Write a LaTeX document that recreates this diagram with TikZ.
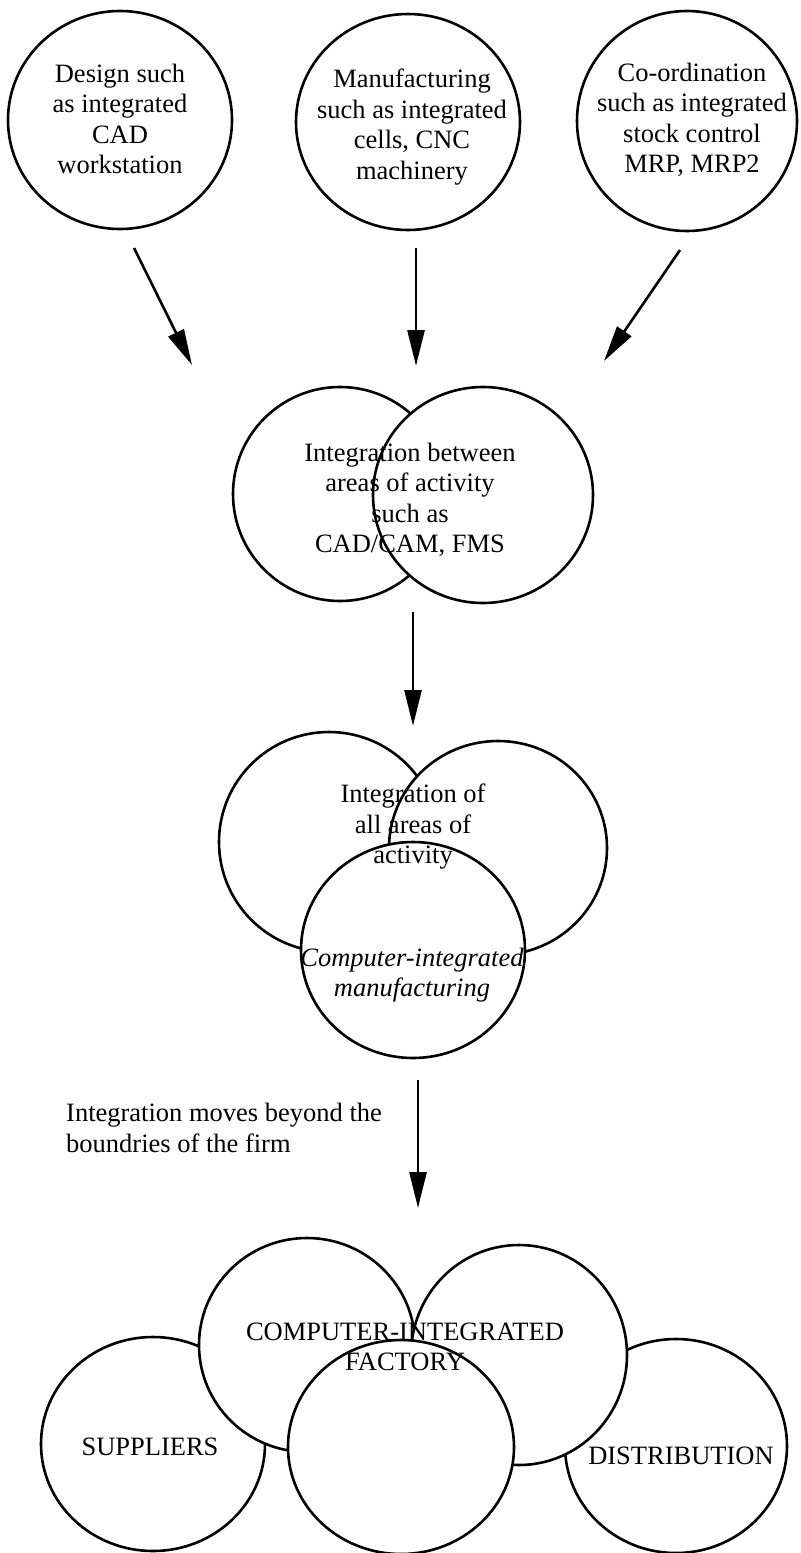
\documentclass[tikz,border=0pt]{standalone}
\usepackage{fontspec}
\setmainfont{Liberation Serif}
\usetikzlibrary{shapes.geometric,arrows.meta}
\begin{document}
\begin{tikzpicture}[x=1bp,y=-1bp,
  blob/.style={ellipse, draw, line width=2.6bp, fill=white, inner sep=0pt, outer sep=0pt},
  txt/.style={font=\fontsize{26.5bp}{30.5bp}\selectfont, align=center, inner sep=0pt},
  flow/.style={line width=2.6bp, -{Triangle[length=36bp,width=17bp]}}
]
\useasboundingbox (0,0) rectangle (800,1553);
\fill[white] (0,0) rectangle (800,1553);

% --- separate areas of activity ---
\node[blob, minimum width=224bp, minimum height=218bp] (design) at (120,120) {};
\node[blob, minimum width=224bp, minimum height=216bp] (manuf) at (408,122) {};
\node[blob, minimum width=220bp, minimum height=220bp] (coord) at (687,121) {};
\node[txt] (designtxt) at (120,119) {Design such\\as integrated\\CAD\\workstation};
\node[txt] (manuftxt) at (412,127) {Manufacturing\\such as integrated\\cells, CNC\\machinery};
\node[txt] (coordtxt) at (692,120) {Co-ordination\\such as integrated\\stock control\\MRP, MRP2};

\coordinate (a1s) at (134,248); \coordinate (a1e) at (192,365);
\coordinate (a2s) at (416,248); \coordinate (a2e) at (416,366);
\coordinate (a3s) at (680,250); \coordinate (a3e) at (604,361);
\draw[flow] (a1s) -- (a1e);
\draw[flow] (a2s) -- (a2e);
\draw[flow] (a3s) -- (a3e);

% --- integration between two areas ---
\node[blob, minimum width=214bp, minimum height=214bp] (pairL) at (340,494) {};
\node[blob, minimum width=220bp, minimum height=216bp] (pairR) at (483,495) {};
\node[txt] (pairtxt) at (410,500) {Integration between\\areas of activity\\such as\\CAD/CAM, FMS};

\coordinate (b1s) at (413,612); \coordinate (b1e) at (413,726);
\draw[flow] (b1s) -- (b1e);

% --- integration of all areas ---
\node[blob, minimum width=220bp, minimum height=220bp] (allL) at (329,842) {};
\node[blob, minimum width=218bp, minimum height=214bp] (allR) at (498,848) {};
\node[blob, minimum width=224bp, minimum height=216bp] (allB) at (413,950) {};
\node[txt] (alltxt) at (413,827) {Integration of\\all areas of\\activity};
\node[txt, font=\fontsize{26.5bp}{30.5bp}\selectfont\itshape] (cimtxt) at (412,975) {Computer-integrated\\manufacturing};

\coordinate (c1s) at (418,1080); \coordinate (c1e) at (418,1208);
\draw[flow] (c1s) -- (c1e);
\node[txt, align=left, anchor=west] (beyond) at (66,1128) {Integration moves beyond the\\boundries of the firm};

% --- computer-integrated factory ---
\node[blob, minimum width=224bp, minimum height=214bp] (supp) at (153,1444) {};
\node[blob, minimum width=222bp, minimum height=214bp] (dist) at (676,1446) {};
\node[blob, minimum width=216bp, minimum height=214bp] (facL) at (307,1345) {};
\node[blob, minimum width=216bp, minimum height=220bp] (facR) at (519,1355) {};
\node[blob, minimum width=226bp, minimum height=214bp] (facB) at (401,1447) {};
\node[txt] (factxt) at (405,1347) {COMPUTER-INTEGRATED\\FACTORY};
\node[txt] (supptxt) at (150,1447) {SUPPLIERS};
\node[txt] (disttxt) at (681,1456) {DISTRIBUTION};
\end{tikzpicture}
\end{document}
